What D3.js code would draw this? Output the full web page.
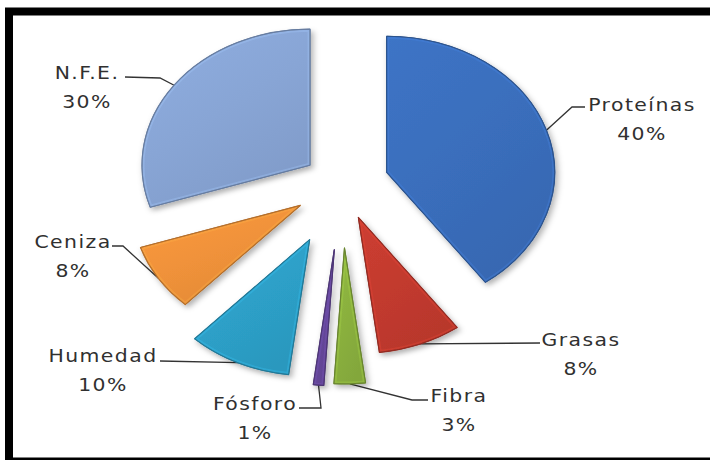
<!DOCTYPE html>
<html>
<head>
<meta charset="utf-8">
<script src="https://cdn.jsdelivr.net/npm/d3@7"></script>
<style>
  html, body { margin: 0; padding: 0; background: #fff; }
  svg { display: block; }
  text { font-family: "DejaVu Sans", sans-serif; fill: #303030; }
</style>
</head>
<body>
<svg id="chart" width="710" height="460"></svg>
<script>
// Composition data
const categories = ["Proteínas", "Grasas", "Fibra", "Fósforo", "Humedad", "Ceniza", "N.F.E."];
const values = [40, 8, 3, 1, 10, 8, 30];
const percentLabels = ["40%", "8%", "3%", "1%", "10%", "8%", "30%"];

// Styling
const baseColors = ["#3a6ebc", "#c23a2e", "#8ab03e", "#65479a", "#2da0c8", "#f0923a", "#88a5d5"];
const explode = [38, 36, 64, 66, 61.5, 40, 32];           // pull-out distance per slice
const labelLayout = [                                       // label centre, first baseline, leader elbow points
  { x: 642, y: 111, path: [[572, 107], [585, 107]] },
  { x: 581, y: 346, path: [[540, 343]] },
  { x: 459, y: 402, path: [[412, 400], [428, 400]] },
  { x: 255, y: 410, path: [[321, 408], [299, 408]] },
  { x: 103, y: 362, path: [[160, 361]] },
  { x: 73,  y: 248, path: [[123, 246], [112, 246]] },
  { x: 87,  y: 79,  path: [[160, 78], [125, 77]] }
];

const cx = 342, cy = 184;
const ry = 136, rx = 168;
const sx = rx / ry;

const svg = d3.select("#chart");
const defs = svg.append("defs");

// Soft drop shadow under each slice
const shadow = defs.append("filter").attr("id", "shadow")
  .attr("x", "-20%").attr("y", "-20%").attr("width", "150%").attr("height", "150%");
shadow.append("feDropShadow")
  .attr("dx", 2).attr("dy", 3).attr("stdDeviation", 2.5)
  .attr("flood-color", "#000").attr("flood-opacity", 0.3);

// Gradients: slightly lighter top-left, slightly deeper bottom-right
baseColors.forEach((c, i) => {
  const g = defs.append("linearGradient").attr("id", "grad" + i)
    .attr("x1", "0%").attr("y1", "0%").attr("x2", "60%").attr("y2", "100%");
  const base = d3.color(c);
  g.append("stop").attr("offset", "0%").attr("stop-color", base.brighter(0.15));
  g.append("stop").attr("offset", "55%").attr("stop-color", base);
  g.append("stop").attr("offset", "100%").attr("stop-color", base.darker(0.15));
});

const pie = d3.pie().sort(null).value(d => d).startAngle(0).endAngle(2 * Math.PI);
const arcs = pie(values);
const arc = d3.arc().innerRadius(0).outerRadius(ry);

// Chart frame
svg.append("rect")
  .attr("x", 9).attr("y", 11.5)
  .attr("width", 720).attr("height", 450)
  .attr("fill", "#fff").attr("stroke", "#000").attr("stroke-width", 8);

// Map a point in unstretched pie space to the page
function toPage(p) { return [cx + p[0] * sx, cy + p[1]]; }
function offsetOf(d, i) {
  const m = (d.startAngle + d.endAngle) / 2;
  return [explode[i] * Math.sin(m), -explode[i] * Math.cos(m)];
}

// Leader lines (drawn first so slices sit over their ends)
const leaders = svg.append("g");
arcs.forEach((d, i) => {
  const m = (d.startAngle + d.endAngle) / 2;
  const o = offsetOf(d, i);
  const start = toPage([o[0] + ry * Math.sin(m), o[1] - ry * Math.cos(m)]);
  const pts = [start].concat(labelLayout[i].path);
  leaders.append("path")
    .attr("d", d3.line()(pts))
    .attr("fill", "none")
    .attr("stroke", "#333")
    .attr("stroke-width", 1.3);
});

// Slices
const slices = svg.append("g").attr("transform", `translate(${cx},${cy}) scale(${sx},1)`);
arcs.forEach((d, i) => {
  const o = offsetOf(d, i);
  const g = slices.append("g")
    .attr("transform", `translate(${o[0]},${o[1]})`)
    .attr("filter", "url(#shadow)");
  const clipId = "clip" + i;
  defs.append("clipPath").attr("id", clipId)
    .append("path").attr("d", arc(d));
  const base = d3.color(baseColors[i]);
  g.append("path")
    .attr("d", arc(d))
    .attr("fill", `url(#grad${i})`)
    .attr("stroke", base.darker(0.8))
    .attr("stroke-width", 1.2)
    .attr("vector-effect", "non-scaling-stroke")
    .attr("stroke-linejoin", "round");
  // inner rim highlight for a bevelled look
  g.append("path")
    .attr("d", arc(d))
    .attr("fill", "none")
    .attr("stroke", base.brighter(0.6))
    .attr("stroke-opacity", 0.3)
    .attr("stroke-width", 5)
    .attr("vector-effect", "non-scaling-stroke")
    .attr("stroke-linejoin", "round")
    .attr("clip-path", `url(#${clipId})`);
  g.append("path")
    .attr("d", arc(d))
    .attr("fill", "none")
    .attr("stroke", base.darker(0.8))
    .attr("stroke-width", 1)
    .attr("vector-effect", "non-scaling-stroke")
    .attr("stroke-linejoin", "round");
});

// Labels: name and percentage
const labels = svg.append("g");
arcs.forEach((d, i) => {
  const L = labelLayout[i];
  [categories[i], percentLabels[i]].forEach((t, k) => {
    labels.append("text")
      .attr("transform", `translate(${L.x},${L.y + k * 28.5}) scale(1.2,1)`)
      .attr("text-anchor", "middle")
      .attr("font-size", 17)
      .attr("letter-spacing", 1.2)
      .text(t);
  });
});
</script>
</body>
</html>
